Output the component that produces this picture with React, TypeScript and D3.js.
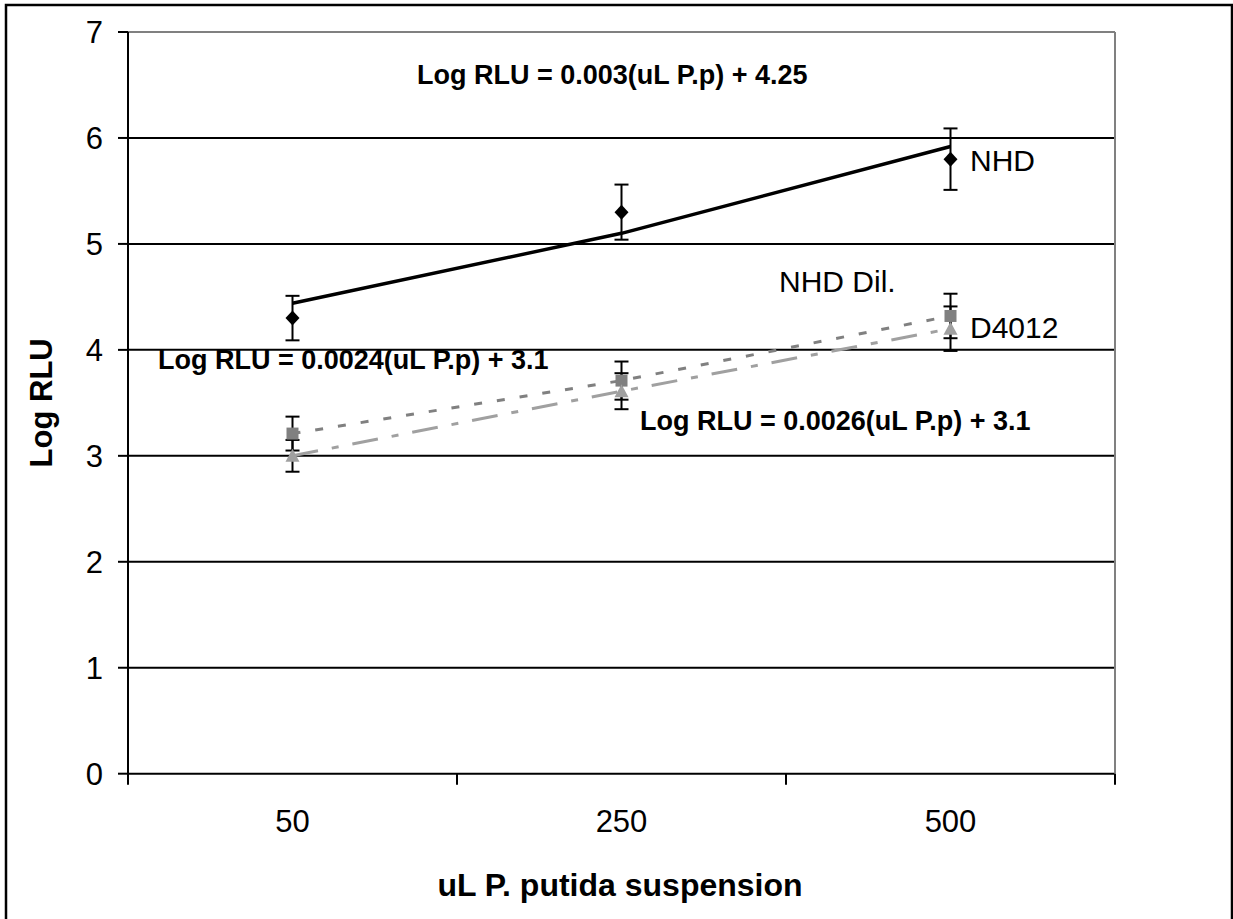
import React from "react";
import * as d3 from "d3";

const categories = ["50", "250", "500"];
const yTicks = [0, 1, 2, 3, 4, 5, 6, 7];
const nhd = [4.3, 5.3, 5.8];
const nhdErr = [0.21, 0.26, 0.29];
const nhdFit = [4.44, 5.1, 5.92];
const nhdDil = [3.21, 3.71, 4.32];
const nhdDilErr = [0.16, 0.18, 0.21];
const d4012 = [3.0, 3.61, 4.2];
const d4012Err = [0.15, 0.17, 0.21];

const W = 1233;
const H = 919;
const FONT = "'Liberation Sans', Arial, sans-serif";

export default function App() {
  const left = 128, right = 1115, top = 32, bottom = 773.7;
  const x = d3.scaleBand<string>().domain(categories).range([left, right]).padding(0);
  const y = d3.scaleLinear().domain([0, 7]).range([bottom, top]);
  const cx = (c: string) => (x(c) as number) + x.bandwidth() / 2;
  const line = d3
    .line<number>()
    .x((_, i) => cx(categories[i]))
    .y((d) => y(d));
  const xTickPos = [...categories.map((c) => x(c) as number), right];

  const errBars = (vals: number[], errs: number[], key: string) =>
    vals.map((v, i) => {
      const px = cx(categories[i]);
      const y1 = y(v + errs[i]);
      const y2 = y(v - errs[i]);
      return (
        <g key={key + i} stroke="#000" strokeWidth={2}>
          <line x1={px} x2={px} y1={y1} y2={y2} />
          <line x1={px - 7} x2={px + 7} y1={y1} y2={y1} />
          <line x1={px - 7} x2={px + 7} y1={y2} y2={y2} />
        </g>
      );
    });

  return (
    <svg
      width={W}
      height={H}
      style={{ position: "absolute", left: 0, top: 0, background: "#fff" }}
      fontFamily={FONT}
    >
      <rect x={0} y={0} width={W} height={H} fill="#fff" />
      <rect x={6} y={5} width={1226} height={930} fill="none" stroke="#000" strokeWidth={2.5} />

      {/* gridlines */}
      {yTicks.map((t) => (
        <line
          key={"g" + t}
          x1={left}
          x2={right}
          y1={y(t)}
          y2={y(t)}
          stroke={t === 7 ? "#808080" : "#000"}
          strokeWidth={2}
        />
      ))}
      <line x1={right} x2={right} y1={top} y2={bottom} stroke="#808080" strokeWidth={2} />
      {/* axes */}
      <line x1={left} x2={left} y1={top} y2={bottom + 1} stroke="#000" strokeWidth={2} />
      {yTicks.map((t) => (
        <g key={"yt" + t}>
          <line x1={left - 10} x2={left} y1={y(t)} y2={y(t)} stroke="#000" strokeWidth={2} />
          <text x={103} y={y(t)} dy="0.36em" textAnchor="end" fontSize={31}>
            {t}
          </text>
        </g>
      ))}
      {xTickPos.map((p, i) => (
        <line key={"xt" + i} x1={p} x2={p} y1={bottom} y2={bottom + 11} stroke="#000" strokeWidth={2} />
      ))}
      {categories.map((c) => (
        <text key={"xl" + c} x={cx(c)} y={832} textAnchor="middle" fontSize={31}>
          {c}
        </text>
      ))}

      {/* axis titles */}
      <text x={620} y={896} textAnchor="middle" fontSize={32} fontWeight="bold">
        uL P. putida suspension
      </text>
      <text
        transform={`translate(52,${(top + bottom) / 2}) rotate(-90)`}
        textAnchor="middle"
        fontSize={31}
        fontWeight="bold"
      >
        Log RLU
      </text>

      {/* series lines */}
      <path d={line(nhdDil) || ""} fill="none" stroke="#808080" strokeWidth={3} strokeDasharray="8 15" />
      <path d={line(d4012) || ""} fill="none" stroke="#a0a0a0" strokeWidth={3} strokeDasharray="26 14 7 14" />
      <path d={line(nhdFit) || ""} fill="none" stroke="#000" strokeWidth={3.5} />

      {/* error bars */}
      {errBars(nhd, nhdErr, "e1")}
      {errBars(nhdDil, nhdDilErr, "e2")}
      {errBars(d4012, d4012Err, "e3")}

      {/* markers */}
      {nhd.map((v, i) => {
        const px = cx(categories[i]);
        const py = y(v);
        return (
          <path
            key={"m1" + i}
            d={`M${px},${py - 7.5}L${px + 7},${py}L${px},${py + 7.5}L${px - 7},${py}Z`}
            fill="#000"
          />
        );
      })}
      {nhdDil.map((v, i) => {
        const px = cx(categories[i]);
        const py = y(v);
        return <rect key={"m2" + i} x={px - 6} y={py - 6} width={12} height={12} fill="#808080" />;
      })}
      {d4012.map((v, i) => {
        const px = cx(categories[i]);
        const py = y(v);
        return (
          <path
            key={"m3" + i}
            d={`M${px},${py - 7}L${px + 7},${py + 6}L${px - 7},${py + 6}Z`}
            fill="#a0a0a0"
          />
        );
      })}

      {/* labels */}
      <text x={417} y={84} fontSize={27} fontWeight="bold">
        Log RLU = 0.003(uL P.p) + 4.25
      </text>
      <text x={158} y={369} fontSize={27} fontWeight="bold">
        Log RLU = 0.0024(uL P.p) + 3.1
      </text>
      <text x={640} y={430} fontSize={27} fontWeight="bold">
        Log RLU = 0.0026(uL P.p) + 3.1
      </text>
      <text x={970} y={171} fontSize={30}>
        NHD
      </text>
      <text x={779} y={292} fontSize={30}>
        NHD Dil.
      </text>
      <text x={970} y={338} fontSize={30}>
        D4012
      </text>
    </svg>
  );
}
